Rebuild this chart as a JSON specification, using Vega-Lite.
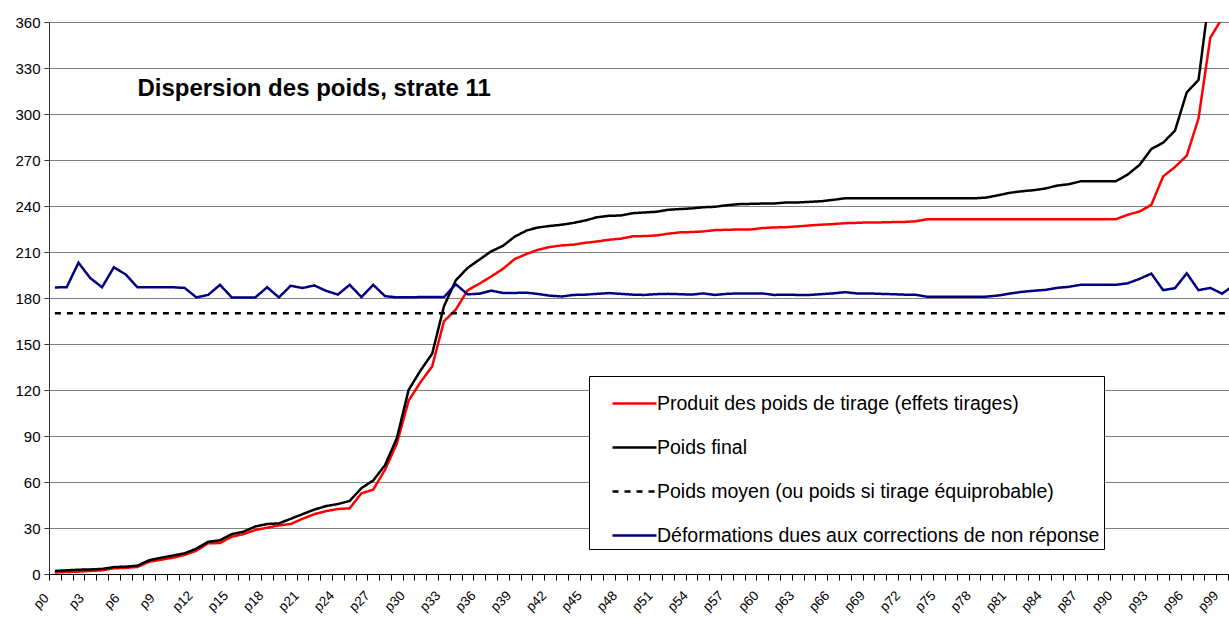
{
"$schema": "https://vega.github.io/schema/vega-lite/v6.json",
"width": 1180, "height": 552,
"autosize": {"type": "none"},
"padding": {"left": 49, "top": 22, "right": 0, "bottom": 45},
"background": "white",
"config": {"font": "Liberation Sans", "view": {"stroke": null}},
"layer": [
{
"data": {"values": [
{"i":0,"prod":1,"final":2,"moy":170,"def":186.9},
{"i":1,"prod":1.3,"final":2.4,"moy":170,"def":187},
{"i":2,"prod":1.5,"final":2.8,"moy":170,"def":203},
{"i":3,"prod":2,"final":3,"moy":170,"def":193},
{"i":4,"prod":2.4,"final":3.3,"moy":170,"def":187},
{"i":5,"prod":3.7,"final":4.5,"moy":170,"def":200},
{"i":6,"prod":4,"final":4.8,"moy":170,"def":195.4},
{"i":7,"prod":4.6,"final":5.4,"moy":170,"def":187},
{"i":8,"prod":8,"final":9,"moy":170,"def":187},
{"i":9,"prod":9.3,"final":10.6,"moy":170,"def":187},
{"i":10,"prod":10.6,"final":12,"moy":170,"def":187},
{"i":11,"prod":12.4,"final":13.5,"moy":170,"def":186.6},
{"i":12,"prod":15.2,"final":16.5,"moy":170,"def":180.4},
{"i":13,"prod":20,"final":21,"moy":170,"def":182},
{"i":14,"prod":20.2,"final":22,"moy":170,"def":188.6},
{"i":15,"prod":24.3,"final":26,"moy":170,"def":180.4},
{"i":16,"prod":26,"final":27.6,"moy":170,"def":180.4},
{"i":17,"prod":28.7,"final":31,"moy":170,"def":180.4},
{"i":18,"prod":30.2,"final":32.6,"moy":170,"def":187},
{"i":19,"prod":31.7,"final":33,"moy":170,"def":180.4},
{"i":20,"prod":32.6,"final":36,"moy":170,"def":188},
{"i":21,"prod":36,"final":39,"moy":170,"def":186.5},
{"i":22,"prod":39,"final":42,"moy":170,"def":188.2},
{"i":23,"prod":41,"final":44.3,"moy":170,"def":184.7},
{"i":24,"prod":42.4,"final":45.6,"moy":170,"def":182.2},
{"i":25,"prod":42.8,"final":47.6,"moy":170,"def":188.6},
{"i":26,"prod":52.6,"final":56,"moy":170,"def":180.6},
{"i":27,"prod":55,"final":61,"moy":170,"def":188.6},
{"i":28,"prod":68,"final":71,"moy":170,"def":181.2},
{"i":29,"prod":85,"final":88.5,"moy":170,"def":180.4},
{"i":30,"prod":113,"final":120,"moy":170,"def":180.5},
{"i":31,"prod":125,"final":132.6,"moy":170,"def":180.6},
{"i":32,"prod":135.4,"final":143.7,"moy":170,"def":180.6},
{"i":33,"prod":164.8,"final":174.6,"moy":170,"def":180.6},
{"i":34,"prod":172.4,"final":191.5,"moy":170,"def":189},
{"i":35,"prod":185,"final":199.6,"moy":170,"def":182.4},
{"i":36,"prod":189.3,"final":205,"moy":170,"def":182.8},
{"i":37,"prod":194,"final":210.4,"moy":170,"def":184.8},
{"i":38,"prod":199,"final":214,"moy":170,"def":183.3},
{"i":39,"prod":205.4,"final":220,"moy":170,"def":183.3},
{"i":40,"prod":208.7,"final":224,"moy":170,"def":183.5},
{"i":41,"prod":211.5,"final":226,"moy":170,"def":182.6},
{"i":42,"prod":213.3,"final":227,"moy":170,"def":181.5},
{"i":43,"prod":214.3,"final":227.8,"moy":170,"def":181},
{"i":44,"prod":214.8,"final":229,"moy":170,"def":182},
{"i":45,"prod":216,"final":230.6,"moy":170,"def":182.2},
{"i":46,"prod":216.9,"final":232.7,"moy":170,"def":182.7},
{"i":47,"prod":218,"final":233.6,"moy":170,"def":183.2},
{"i":48,"prod":218.7,"final":233.8,"moy":170,"def":182.7},
{"i":49,"prod":220.2,"final":235.3,"moy":170,"def":182.2},
{"i":50,"prod":220.4,"final":235.8,"moy":170,"def":182},
{"i":51,"prod":220.8,"final":236.2,"moy":170,"def":182.5},
{"i":52,"prod":221.9,"final":237.5,"moy":170,"def":182.7},
{"i":53,"prod":222.8,"final":238,"moy":170,"def":182.5},
{"i":54,"prod":223,"final":238.4,"moy":170,"def":182.2},
{"i":55,"prod":223.4,"final":239.2,"moy":170,"def":183},
{"i":56,"prod":224.3,"final":239.5,"moy":170,"def":182},
{"i":57,"prod":224.5,"final":240.5,"moy":170,"def":182.7},
{"i":58,"prod":224.7,"final":241.2,"moy":170,"def":183},
{"i":59,"prod":224.7,"final":241.4,"moy":170,"def":183},
{"i":60,"prod":225.6,"final":241.6,"moy":170,"def":183},
{"i":61,"prod":226,"final":241.6,"moy":170,"def":182},
{"i":62,"prod":226.2,"final":242.3,"moy":170,"def":182.2},
{"i":63,"prod":226.7,"final":242.3,"moy":170,"def":182},
{"i":64,"prod":227.3,"final":242.7,"moy":170,"def":182},
{"i":65,"prod":227.8,"final":243.1,"moy":170,"def":182.5},
{"i":66,"prod":228.2,"final":244,"moy":170,"def":183},
{"i":67,"prod":228.8,"final":245,"moy":170,"def":183.8},
{"i":68,"prod":229,"final":245,"moy":170,"def":183},
{"i":69,"prod":229.3,"final":245,"moy":170,"def":183},
{"i":70,"prod":229.3,"final":245,"moy":170,"def":182.7},
{"i":71,"prod":229.5,"final":245,"moy":170,"def":182.5},
{"i":72,"prod":229.6,"final":245,"moy":170,"def":182.2},
{"i":73,"prod":230,"final":245,"moy":170,"def":182.1},
{"i":74,"prod":231.4,"final":245,"moy":170,"def":180.8},
{"i":75,"prod":231.4,"final":245,"moy":170,"def":180.8},
{"i":76,"prod":231.4,"final":245,"moy":170,"def":180.8},
{"i":77,"prod":231.4,"final":245,"moy":170,"def":180.8},
{"i":78,"prod":231.4,"final":245,"moy":170,"def":180.8},
{"i":79,"prod":231.4,"final":245.5,"moy":170,"def":180.9},
{"i":80,"prod":231.4,"final":247,"moy":170,"def":181.6},
{"i":81,"prod":231.4,"final":248.6,"moy":170,"def":182.9},
{"i":82,"prod":231.4,"final":249.6,"moy":170,"def":184},
{"i":83,"prod":231.4,"final":250.3,"moy":170,"def":184.7},
{"i":84,"prod":231.4,"final":251.4,"moy":170,"def":185.3},
{"i":85,"prod":231.4,"final":253.3,"moy":170,"def":186.6},
{"i":86,"prod":231.4,"final":254.2,"moy":170,"def":187.3},
{"i":87,"prod":231.4,"final":256.1,"moy":170,"def":188.6},
{"i":88,"prod":231.4,"final":256.1,"moy":170,"def":188.6},
{"i":89,"prod":231.4,"final":256.1,"moy":170,"def":188.6},
{"i":90,"prod":231.4,"final":256.2,"moy":170,"def":188.6},
{"i":91,"prod":234.3,"final":260.6,"moy":170,"def":189.6},
{"i":92,"prod":236.4,"final":266.8,"moy":170,"def":192.5},
{"i":93,"prod":240.8,"final":277.2,"moy":170,"def":195.9},
{"i":94,"prod":259.3,"final":281.3,"moy":170,"def":185.1},
{"i":95,"prod":265.4,"final":289.1,"moy":170,"def":186.4},
{"i":96,"prod":272.8,"final":314.1,"moy":170,"def":196.1},
{"i":97,"prod":297.2,"final":322.2,"moy":170,"def":185.1},
{"i":98,"prod":349.8,"final":382,"moy":170,"def":186.6},
{"i":99,"prod":362.4,"final":450,"moy":170,"def":182.8},
{"i":100,"prod":430,"final":600,"moy":170,"def":188.4}
]},
"transform": [{"fold": ["prod", "final", "moy", "def"], "as": ["serie", "v"]}],
"mark": {"type": "line", "clip": true, "strokeWidth": 2.5},
"encoding": {
"x": {"field": "i", "type": "ordinal",
 "scale": {"type": "band", "range": [0, 1190.8], "paddingInner": 0, "paddingOuter": 0},
 "axis": {"title": null, "tickBand": "extent", "grid": false, "labelAngle": -45, "labelAlign": "center", "labelBaseline": "middle", "labelOverlap": false,
  "labelExpr": "datum.value % 3 == 0 ? 'p' + datum.value : ''", "labelOffset": -14,
  "labelFontSize": 13.5, "labelColor": "#000", "domainColor": "#000", "tickColor": "#000", "tickSize": 6, "labelPadding": 21}},
"y": {"field": "v", "type": "quantitative",
 "scale": {"domain": [0, 360], "nice": false, "zero": true},
 "axis": {"title": null, "values": [0,30,60,90,120,150,180,210,240,270,300,330,360], "grid": true, "gridColor": "#808080", "gridWidth": 1,
  "tickSize": 5, "labelPadding": 4, "labelFontSize": 15, "labelColor": "#000", "domainColor": "#333", "tickColor": "#333"}},
"color": {"field": "serie", "type": "nominal",
 "scale": {"domain": ["prod", "final", "moy", "def"], "range": ["#ff0000", "#000000", "#000000", "#000080"]},
 "legend": {"orient": "none", "legendX": 540, "legendY": 354, "title": null, "strokeColor": "#000", "fillColor": "#fff", "padding": 4,
  "symbolType": "stroke", "symbolSize": 1936, "symbolStrokeWidth": 2.5, "symbolOffset": 18, "labelOffset": -1, "labelFontSize": 19.5,
  "labelColor": "#000", "rowPadding": 11, "labelLimit": 700,
  "labelExpr": "datum.value == 'prod' ? 'Produit des poids de tirage (effets tirages)' : datum.value == 'final' ? 'Poids final' : datum.value == 'moy' ? 'Poids moyen (ou poids si tirage équiprobable)' : 'Déformations dues aux corrections de non réponse'"}},
"strokeDash": {"field": "serie", "type": "nominal",
 "scale": {"domain": ["prod", "final", "moy", "def"], "range": [[1, 0], [1, 0], [6, 6], [1, 0]]},
 "legend": {"orient": "none", "legendX": 540, "legendY": 354, "title": null, "strokeColor": "#000", "fillColor": "#fff", "padding": 4,
  "symbolType": "stroke", "symbolSize": 1936, "symbolStrokeWidth": 2.5, "symbolOffset": 18, "labelOffset": -1, "labelFontSize": 19.5,
  "labelColor": "#000", "rowPadding": 11, "labelLimit": 700,
  "labelExpr": "datum.value == 'prod' ? 'Produit des poids de tirage (effets tirages)' : datum.value == 'final' ? 'Poids final' : datum.value == 'moy' ? 'Poids moyen (ou poids si tirage équiprobable)' : 'Déformations dues aux corrections de non réponse'"}}
}
},
{
"data": {"values": [{"label": "Dispersion des poids, strate 11"}]},
"mark": {"type": "text", "align": "left", "baseline": "middle", "fontSize": 24, "fontWeight": "bold", "color": "#000"},
"encoding": {
"x": {"datum": 7, "type": "ordinal",
 "axis": {"title": null, "tickBand": "extent", "grid": false, "labelAngle": -45, "labelAlign": "center", "labelBaseline": "middle", "labelOverlap": false,
  "labelExpr": "datum.value % 3 == 0 ? 'p' + datum.value : ''", "labelOffset": -14,
  "labelFontSize": 13.5, "labelColor": "#000", "domainColor": "#000", "tickColor": "#000", "tickSize": 6, "labelPadding": 21}},
"y": {"datum": 316.3, "type": "quantitative",
 "axis": {"title": null, "values": [0,30,60,90,120,150,180,210,240,270,300,330,360], "grid": true, "gridColor": "#808080", "gridWidth": 1,
  "tickSize": 5, "labelPadding": 4, "labelFontSize": 15, "labelColor": "#000", "domainColor": "#333", "tickColor": "#333"}},
"text": {"field": "label"}
}
}
]
}
